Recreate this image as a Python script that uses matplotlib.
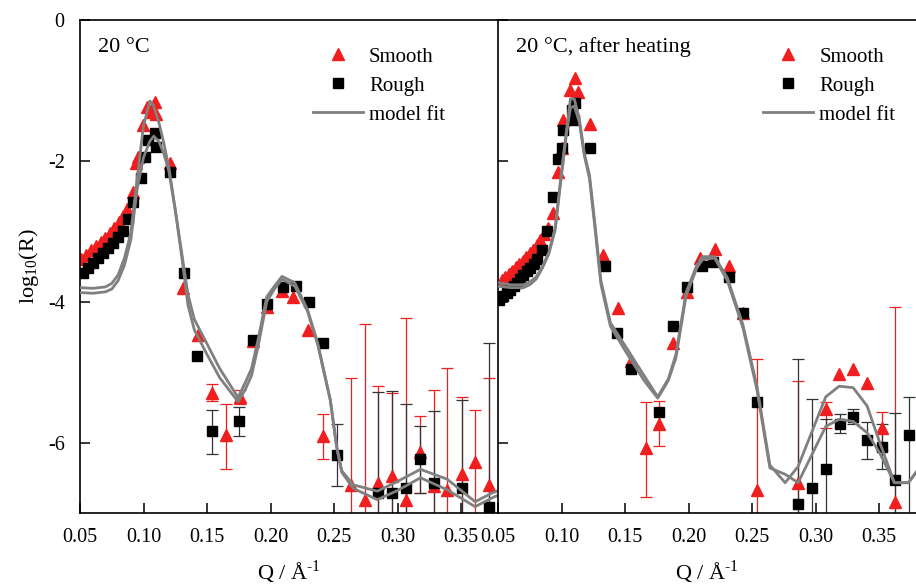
import numpy as np
import matplotlib.pyplot as plt
from matplotlib.lines import Line2D

plt.rcParams['font.family'] = ['Liberation Serif', 'DejaVu Serif']
plt.rcParams['mathtext.fontset'] = 'custom'
plt.rcParams['mathtext.rm'] = 'Liberation Serif'
plt.rcParams['axes.unicode_minus'] = False

RED = '#f01e1e'
GRAY = '#808080'

# ---- left panel: 20 °C ----
l_smooth_q = [0.0508, 0.0547, 0.0587, 0.0626, 0.0665, 0.0697, 0.0736, 0.0768, 0.0807,
              0.0838, 0.0870, 0.0917, 0.0941, 0.0957, 0.0996, 0.1028, 0.1060, 0.1091,
              0.1099, 0.1209, 0.1308, 0.1429, 0.1537, 0.1647, 0.1760, 0.1862, 0.1970,
              0.2087, 0.2177, 0.2296, 0.2413, 0.2630, 0.2743, 0.2847, 0.2956, 0.3066,
              0.3176, 0.3287, 0.3387, 0.3505, 0.3610, 0.3720]
l_smooth_r = [-3.40, -3.33, -3.27, -3.21, -3.15, -3.09, -3.02, -2.95, -2.87,
              -2.78, -2.68, -2.44, -2.03, -1.94, -1.49, -1.23, -1.30, -1.16,
              -1.33, -2.03, -3.80, -4.47, -5.29, -5.89, -5.35, -4.56, -4.08,
              -3.85, -3.93, -4.40, -5.90, -6.60, -6.82, -6.57, -6.48, -6.82,
              -6.14, -6.62, -6.67, -6.45, -6.28, -6.60]
l_smooth_up = [0] * 22 + [0.12, 0.44, 0.10, 0, 0, 0, 0, 0, 0.30, 1.52, 2.51, 1.38, 1.18, 2.59,
                          0.52, 1.36, 1.73, 1.09, 0.74, 1.52]
l_smooth_lo = [0] * 22 + [0.12, 0.48, 0.10, 0, 0, 0, 0, 0, 0.33, 3, 3, 3, 3, 3,
                          0.57, 3, 3, 3, 3, 3]

l_rough_q = [0.0524, 0.0563, 0.0602, 0.0642, 0.0681, 0.0720, 0.0760, 0.0799, 0.0838,
             0.0878, 0.0917, 0.0980, 0.1012, 0.1035, 0.1090, 0.1098, 0.1209, 0.1319,
             0.1421, 0.1537, 0.1751, 0.1859, 0.1970, 0.2095, 0.2200, 0.2302, 0.2413,
             0.2522, 0.2847, 0.2956, 0.3066, 0.3176, 0.3287, 0.3505, 0.3720]
l_rough_r = [-3.59, -3.52, -3.45, -3.38, -3.31, -3.24, -3.16, -3.08, -3.00,
             -2.82, -2.58, -2.24, -1.94, -1.70, -1.60, -1.80, -2.16, -3.59,
             -4.77, -5.83, -5.70, -4.55, -4.03, -3.79, -3.78, -4.01, -4.58,
             -6.17, -6.71, -6.71, -6.64, -6.24, -6.57, -6.65, -6.92]
l_rough_up = [0] * 19 + [0.29, 0.20, 0, 0, 0, 0, 0, 0, 0.44, 1.43, 1.44, 1.19, 0.48, 1.02, 1.26, 2.34]
l_rough_lo = [0] * 19 + [0.33, 0.21, 0, 0, 0, 0, 0, 0, 0.45, 3, 3, 3, 0.47, 3, 3, 3]

l_fit_q = [0.050, 0.060, 0.070, 0.075, 0.080, 0.085, 0.090, 0.095, 0.100, 0.105, 0.108,
           0.112, 0.116, 0.120, 0.125, 0.130, 0.135, 0.140, 0.150, 0.160, 0.1744, 0.180,
           0.185, 0.190, 0.197, 0.203, 0.209, 0.219, 0.229, 0.237, 0.247, 0.252, 0.256,
           0.265, 0.284, 0.300, 0.318, 0.339, 0.361, 0.375, 0.380]
l_fit_a = [-3.80, -3.81, -3.79, -3.74, -3.62, -3.38, -3.02, -2.25, -1.50, -1.15, -1.22,
           -1.45, -1.75, -2.10, -2.70, -3.30, -3.90, -4.25, -4.60, -4.95, -5.36, -5.15,
           -4.95, -4.55, -3.93, -3.78, -3.64, -3.73, -4.11, -4.58, -5.39, -6.05, -6.40,
           -6.60, -6.69, -6.55, -6.38, -6.52, -6.84, -6.71, -6.68]
l_fit_b = [-3.87, -3.88, -3.86, -3.82, -3.70, -3.48, -3.12, -2.40, -1.95, -1.72, -1.65,
           -1.72, -1.90, -2.15, -2.70, -3.35, -4.05, -4.40, -4.75, -5.08, -5.42, -5.25,
           -5.05, -4.65, -4.00, -3.82, -3.68, -3.78, -4.13, -4.60, -5.40, -6.07, -6.42,
           -6.65, -6.81, -6.68, -6.50, -6.67, -6.91, -6.78, -6.74]

# ---- right panel: 20 °C, after heating ----
r_smooth_q = [0.0531, 0.0559, 0.0587, 0.0614, 0.0642, 0.0669, 0.0697, 0.0724, 0.0752,
              0.0779, 0.0807, 0.0834, 0.0862, 0.0893, 0.0933, 0.0972, 0.1004, 0.1012,
              0.1067, 0.1106, 0.1130, 0.1224, 0.1326, 0.1445, 0.1545, 0.1665, 0.1767,
              0.1877, 0.1987, 0.2090, 0.2208, 0.2318, 0.2428, 0.2538, 0.2862, 0.3082,
              0.3185, 0.3295, 0.3405, 0.3523, 0.3626]
r_smooth_r = [-3.69, -3.65, -3.61, -3.56, -3.51, -3.47, -3.42, -3.37, -3.31,
              -3.26, -3.20, -3.12, -3.04, -2.95, -2.74, -2.16, -1.82, -1.42,
              -0.99, -0.83, -1.02, -1.47, -3.33, -4.09, -4.84, -6.07, -5.73,
              -4.58, -3.86, -3.38, -3.25, -3.49, -4.16, -6.67, -6.58, -5.52,
              -5.02, -4.95, -5.15, -5.80, -6.85]
r_smooth_up = [0] * 25 + [0.65, 0.32, 0, 0, 0, 0, 0, 0, 1.85, 1.45, 0.10, 0, 0, 0, 0.24, 2.78]
r_smooth_lo = [0] * 25 + [0.70, 0.32, 0, 0, 0, 0, 0, 0, 3, 3, 0.27, 0, 0, 0, 0.30, 3]

r_rough_q = [0.0508, 0.0539, 0.0567, 0.0594, 0.0622, 0.0650, 0.0674, 0.0697, 0.0725,
             0.0752, 0.0780, 0.0807, 0.0846, 0.0886, 0.0933, 0.0972, 0.1004, 0.1012,
             0.1082, 0.1098, 0.1106, 0.1224, 0.1342, 0.1437, 0.1545, 0.1767, 0.1877,
             0.1987, 0.2105, 0.2192, 0.2318, 0.2428, 0.2538, 0.2862, 0.2972, 0.3082,
             0.3192, 0.3295, 0.3405, 0.3523, 0.3626, 0.3736]
r_rough_r = [-3.97, -3.92, -3.88, -3.83, -3.78, -3.73, -3.68, -3.62, -3.57,
             -3.52, -3.46, -3.40, -3.26, -3.00, -2.51, -1.97, -1.82, -1.56,
             -1.28, -1.42, -1.18, -1.82, -3.49, -4.45, -4.95, -5.56, -4.35,
             -3.79, -3.49, -3.44, -3.65, -4.16, -5.43, -6.87, -6.65, -6.37,
             -5.73, -5.63, -5.96, -6.06, -6.53, -5.89]
r_rough_up = [0] * 33 + [2.05, 1.27, 0.70, 0.14, 0.10, 0.25, 0.33, 0.95, 0.54]
r_rough_lo = [0] * 33 + [3, 3, 3, 0.14, 0.10, 0.28, 0.32, 3, 3]

r_fit_q = [0.050, 0.060, 0.070, 0.075, 0.080, 0.085, 0.090, 0.095, 0.100, 0.104, 0.107,
           0.110, 0.114, 0.118, 0.122, 0.126, 0.131, 0.1385, 0.152, 0.165, 0.1757, 0.184,
           0.190, 0.198, 0.2065, 0.211, 0.2205, 0.2305, 0.2428, 0.2538, 0.264, 0.276,
           0.2862, 0.308, 0.3185, 0.3295, 0.3405, 0.3505, 0.362, 0.373, 0.380]
r_fit_a = [-3.73, -3.76, -3.76, -3.72, -3.65, -3.50, -3.30, -2.95, -2.15, -1.55, -1.12,
           -1.12, -1.40, -1.90, -2.20, -2.85, -3.70, -4.30, -4.68, -5.05, -5.35, -5.10,
           -4.75, -3.87, -3.48, -3.36, -3.36, -3.66, -4.33, -5.20, -6.32, -6.57, -6.34,
           -5.35, -5.20, -5.22, -5.48, -6.00, -6.57, -6.57, -6.40]
r_fit_b = [-3.78, -3.80, -3.80, -3.76, -3.68, -3.52, -3.32, -2.98, -2.20, -1.60, -1.25,
           -1.22, -1.45, -1.93, -2.25, -2.90, -3.75, -4.35, -4.75, -5.12, -5.37, -5.12,
           -4.80, -3.92, -3.52, -3.40, -3.38, -3.70, -4.37, -5.25, -6.36, -6.45, -6.57,
           -5.77, -5.67, -5.70, -5.86, -6.15, -6.57, -6.57, -6.40]

x_ticks = [0.05, 0.10, 0.15, 0.20, 0.25, 0.30, 0.35]
y_ticks = [0, -2, -4, -6]


def draw_errors(ax, q, r, up, lo, color):
    q, r, up, lo = map(np.asarray, (q, r, up, lo))
    m = (up > 0) | (lo > 0)
    ax.errorbar(q[m], r[m], yerr=[lo[m], up[m]], fmt='none', ecolor=color,
                elinewidth=0.9, capsize=4, capthick=0.9, zorder=1)


def draw_panel(ax, smooth, rough, fits, title, legend_x):
    draw_errors(ax, *smooth, RED)
    draw_errors(ax, *rough, '#333333')
    ax.plot(smooth[0], smooth[1], ls='none', marker='^', ms=8, color=RED,
            mec=RED, zorder=2)
    ax.plot(rough[0], rough[1], ls='none', marker='s', ms=6.5, color='black',
            zorder=3)
    for f in fits[1:]:
        ax.plot(fits[0], f, color=GRAY, lw=2.0, zorder=4)

    ax.set_xlim(0.05, 0.379)
    ax.set_ylim(-7, 0)
    ax.set_xticks(x_ticks)
    ax.set_xticklabels(['%.2f' % t for t in x_ticks])
    ax.set_yticks(y_ticks)
    ax.tick_params(direction='in', length=7, width=1.1, labelsize=14.5, pad=11)
    for s in ax.spines.values():
        s.set_linewidth(1.2)
    ax.set_xlabel('Q / Å$^{\\text{-1}}$', fontsize=16, labelpad=8)
    ax.text(0.043, 0.945, title, transform=ax.transAxes, fontsize=16, va='center')

    handles = [Line2D([], [], ls='none', marker='^', ms=9, color=RED),
               Line2D([], [], ls='none', marker='s', ms=6.5, color='black'),
               Line2D([], [], color=GRAY, lw=2.0)]
    ax.legend(handles, ['Smooth', 'Rough', 'model fit'], loc='upper left',
              bbox_to_anchor=(legend_x, 0.945), frameon=False, fontsize=15,
              handlelength=2.4, handletextpad=0.3, labelspacing=0.45,
              borderpad=0, borderaxespad=0)


fig = plt.figure(figsize=(9.16, 5.87), dpi=100)
ax1 = fig.add_axes([80 / 916, 74 / 587, 418 / 916, 493 / 587])
ax2 = fig.add_axes([498 / 916, 74 / 587, 418 / 916, 493 / 587])

draw_panel(ax1,
           (l_smooth_q, l_smooth_r, l_smooth_up, l_smooth_lo),
           (l_rough_q, l_rough_r, l_rough_up, l_rough_lo),
           (l_fit_q, l_fit_a, l_fit_b), '20 °C', 0.557)
draw_panel(ax2,
           (r_smooth_q, r_smooth_r, r_smooth_up, r_smooth_lo),
           (r_rough_q, r_rough_r, r_rough_up, r_rough_lo),
           (r_fit_q, r_fit_a, r_fit_b), '20 °C, after heating', 0.634)

ax1.spines['right'].set_visible(False)
ax2.spines['right'].set_visible(False)
ax1.set_yticklabels(['0', '-2', '-4', '-6'])
ax1.set_ylabel('log$_{\\mathregular{10}}$(R)', fontsize=16, labelpad=5)
ax2.tick_params(labelleft=False)

fig.savefig('out.png', dpi=100)
